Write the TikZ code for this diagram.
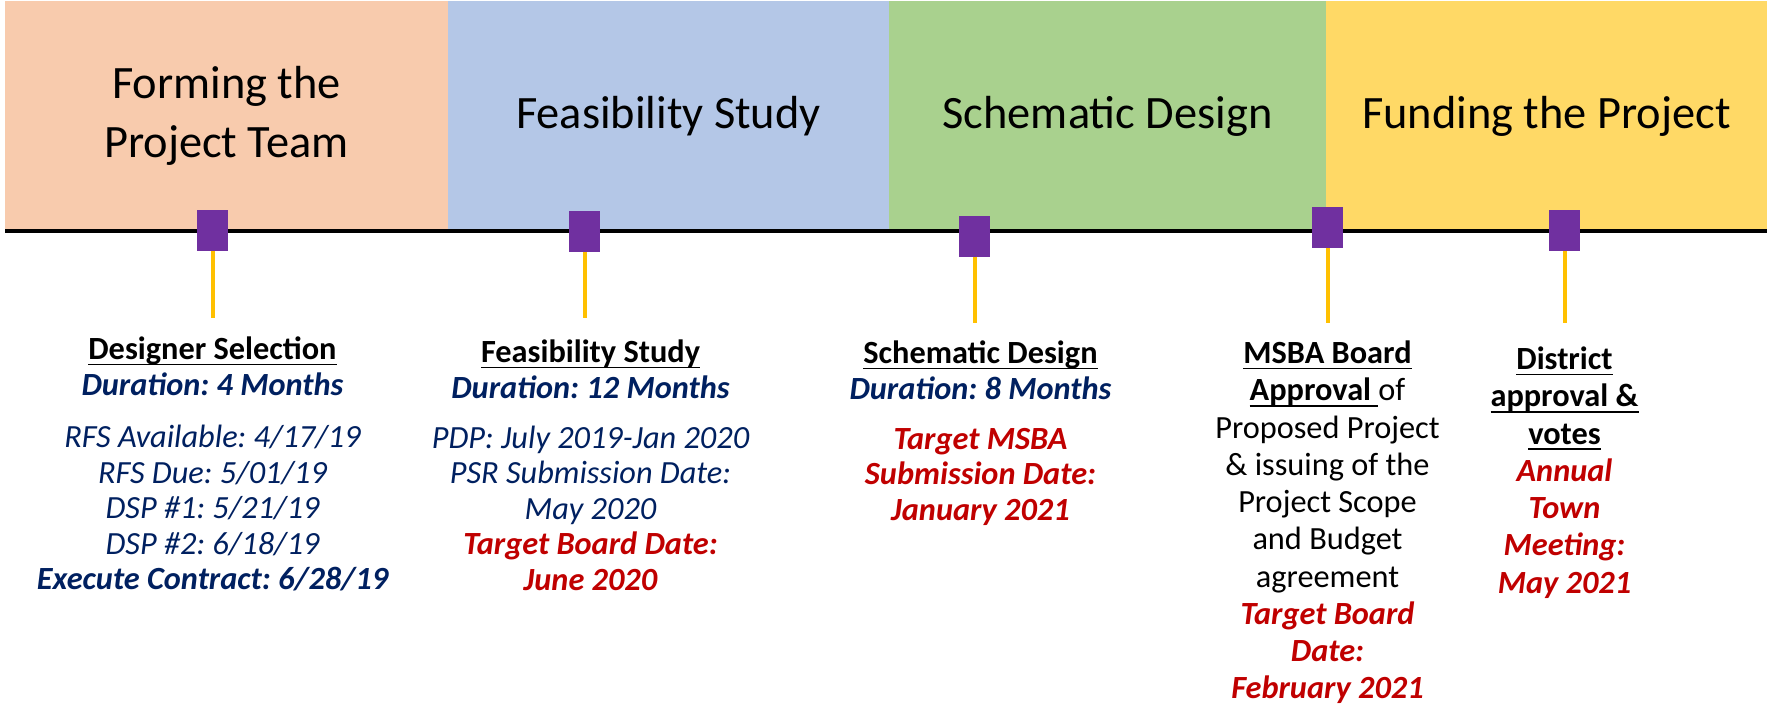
\documentclass[tikz,border=0pt]{standalone}
\usepackage{fontspec}
\setmainfont{Carlito}
\usetikzlibrary{positioning}
\frenchspacing

\definecolor{phaseA}{HTML}{F8CBAD}
\definecolor{phaseB}{HTML}{B4C7E7}
\definecolor{phaseC}{HTML}{A9D18E}
\definecolor{phaseD}{HTML}{FFD966}
\definecolor{milepurple}{HTML}{7030A0}
\definecolor{stemgold}{HTML}{FFC000}
\definecolor{navy}{HTML}{002060}
\definecolor{darkred}{HTML}{C00000}

\newcommand{\uln}[1]{\underline{\raisebox{0pt}[\height][0pt]{#1}}}
\newcommand{\durtext}[1]{{\color{navy}\bfseries\itshape #1}}
\newcommand{\datetext}[1]{{\color{navy}\itshape #1}}
\newcommand{\targettext}[1]{{\color{darkred}\bfseries\itshape #1}}

\begin{document}
\begin{tikzpicture}[
        phase/.style={anchor=north west, minimum height=2.30cm, inner sep=0pt, outer sep=0pt,
            align=center, font=\fontsize{13.2}{16.7}\selectfont},
        mile/.style={fill=milepurple, minimum width=0.31cm, minimum height=0.41cm,
            inner sep=0pt, outer sep=0pt},
        stem/.style={stemgold, line width=0.04cm},
        info/.style={anchor=north, align=center, inner sep=0pt, outer sep=0pt,
            font=\fontsize{9.2}{10.1}\selectfont}
    ]
        \useasboundingbox (0,0) rectangle (17.67,-7.07);

        % Phases
        \node[phase, fill=phaseA, minimum width=4.43cm] (p1) at (0.05,-0.01) {Forming the\\Project Team};
        \node[phase, fill=phaseB, minimum width=4.41cm, right=0pt of p1] (p2) {Feasibility Study};
        \node[phase, fill=phaseC, minimum width=4.37cm, right=0pt of p2] (p3) {Schematic Design};
        \node[phase, fill=phaseD, minimum width=4.41cm, right=0pt of p3] (p4) {Funding the Project};

        % Timeline
        \draw[line width=0.04cm] (p1.south west) -- (p4.south east);

        % Milestones
        \node[mile] (m1) at (2.125,-2.305) {};
        \node[mile] (m2) at (5.845,-2.315) {};
        \node[mile] (m3) at (9.745,-2.36) {};
        \node[mile] (m4) at (13.275,-2.275) {};
        \node[mile] (m5) at (15.645,-2.305) {};

        % Stems
        \coordinate[below=0.67cm of m1.south] (e1);
        \coordinate[below=0.66cm of m2.south] (e2);
        \coordinate[below=0.665cm of m3.south] (e3);
        \coordinate[below=0.75cm of m4.south] (e4);
        \coordinate[below=0.72cm of m5.south] (e5);
        \draw[stem] (m1.south) -- (e1);
        \draw[stem] (m2.south) -- (e2);
        \draw[stem] (m3.south) -- (e3);
        \draw[stem] (m4.south) -- (e4);
        \draw[stem] (m5.south) -- (e5);

        % Details
        \node[info, below=0.19cm of e1] (t1) {\uln{\textbf{Designer Selection}}\\
            \durtext{Duration: 4 Months}\\[4.8pt]
            \datetext{RFS Available: 4/17/19}\\
            \datetext{RFS Due: 5/01/19}\\
            \datetext{DSP \#1: 5/21/19}\\
            \datetext{DSP \#2: 6/18/19}\\
            \durtext{Execute Contract: 6/28/19}};
        \node[info, below=0.22cm of e2, xshift=0.06cm] (t2) {\uln{\textbf{Feasibility Study}}\\
            \durtext{Duration: 12 Months}\\[4.2pt]
            \datetext{PDP: July 2019-Jan 2020}\\
            \datetext{PSR Submission Date:}\\
            \datetext{May 2020}\\
            \targettext{Target Board Date:}\\
            \targettext{June 2020}};
        \node[info, below=0.18cm of e3, xshift=0.06cm] (t3) {\uln{\textbf{Schematic Design}}\\
            \durtext{Duration: 8 Months}\\[4.2pt]
            \targettext{Target MSBA}\\
            \targettext{Submission Date:}\\
            \targettext{January 2021}};
        \node[info, below=0.18cm of e4, font=\fontsize{9.2}{10.6}\selectfont] (t4) {\uln{\textbf{MSBA Board}}\\
            \uln{\textbf{Approval }}of\\
            Proposed Project\\
            \& issuing of the\\
            Project Scope\\
            and Budget\\
            agreement\\
            \targettext{Target Board}\\
            \targettext{Date:}\\
            \targettext{February 2021}};
        \node[info, below=0.24cm of e5, font=\fontsize{9.2}{10.6}\selectfont] (t5) {\uln{\textbf{District}}\\
            \uln{\textbf{approval \&}}\\
            \uln{\textbf{votes}}\\
            \targettext{Annual}\\
            \targettext{Town}\\
            \targettext{Meeting:}\\
            \targettext{May 2021}};
    \end{tikzpicture}
\end{document}
